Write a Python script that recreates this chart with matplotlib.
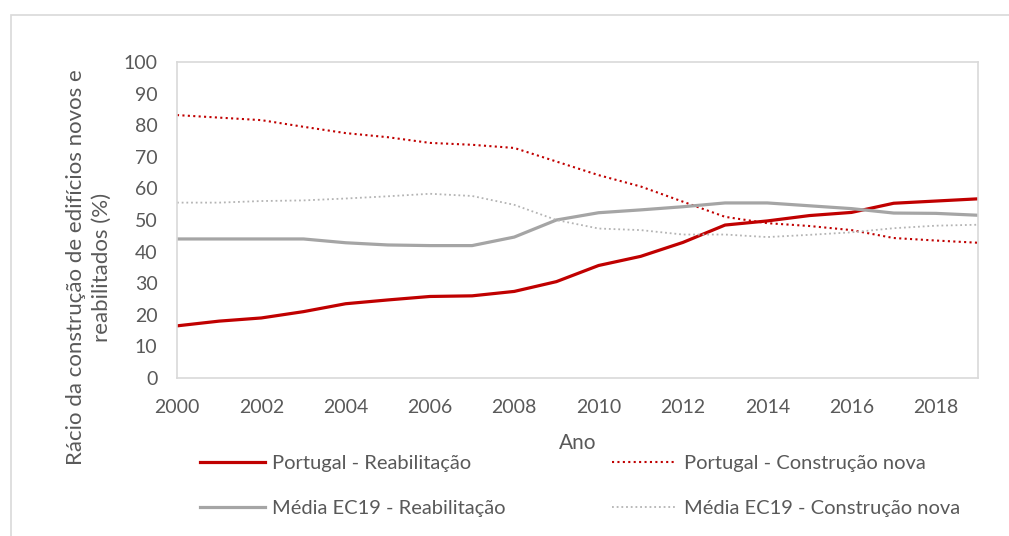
import matplotlib.pyplot as plt
from matplotlib.patches import Rectangle

anos = list(range(2000, 2020))
pt_reab = [16.5, 18, 19, 21, 23.5, 24.7, 25.8, 26, 27.4, 30.5,
           35.6, 38.5, 42.9, 48.4, 49.7, 51.4, 52.4, 55.3, 56, 56.7]
pt_nova = [83.2, 82.4, 81.6, 79.5, 77.5, 76.2, 74.4, 73.8, 72.8, 68.5,
           64.2, 60.6, 55.8, 51, 49, 48.1, 46.8, 44.3, 43.5, 42.8]
ec_reab = [44, 44, 44, 44, 42.8, 42.1, 41.9, 41.9, 44.6, 50,
           52.3, 53.2, 54.2, 55.4, 55.4, 54.5, 53.6, 52.2, 52.1, 51.5]
ec_nova = [55.5, 55.5, 56, 56.2, 56.8, 57.5, 58.3, 57.6, 54.8, 50,
           47.3, 46.8, 45.4, 45.4, 44.6, 45.3, 46.1, 47.4, 48.2, 48.5]
xticks = list(range(2000, 2019, 2))

plt.rcParams['font.family'] = ['Lato', 'DejaVu Sans']
cinza_txt = '#595959'
vermelho = '#C00000'
cinza = '#A5A5A5'

fig = plt.figure(figsize=(10.09, 5.36), dpi=100)
ax = fig.add_axes([177/1009, 1-378/536, (978-177)/1009, (378-62)/536])

l1, = ax.plot(anos, pt_reab, color=vermelho, lw=2.3, label='Portugal - Reabilitação')
l2, = ax.plot(anos, pt_nova, color=vermelho, lw=1.5, linestyle=(0, (1, 1.6)), label='Portugal - Construção nova')
l3, = ax.plot(anos, ec_reab, color=cinza, lw=2.3, label='Média EC19 - Reabilitação')
l4, = ax.plot(anos, ec_nova, color='#B4B4B4', lw=1.3, linestyle=(0, (1, 1.6)), label='Média EC19 - Construção nova')

ax.set_xlim(2000, 2019)
ax.set_ylim(0, 100)
ax.set_xticks(xticks)
ax.set_yticks(range(0, 101, 10))
ax.tick_params(length=0, labelsize=14, labelcolor=cinza_txt)
ax.tick_params(axis='x', pad=15)
ax.tick_params(axis='y', pad=14)
for s in ax.spines.values():
    s.set_color('#D9D9D9')
    s.set_linewidth(1.2)

fig.text(89/1009, 1-267/536, 'Rácio da construção de edifícios novos e\nreabilitados (%)',
         rotation=90, ha='center', va='center', multialignment='center',
         fontsize=16, color=cinza_txt, linespacing=1.4)
fig.text(578/1009, 1-443/536, 'Ano', ha='center', va='center', fontsize=15, color=cinza_txt)

leg = fig.legend([l1, l3, l2, l4], [l1.get_label(), l3.get_label(), l2.get_label(), l4.get_label()],
                 loc='center', bbox_to_anchor=(580/1009, 1-486/536), ncol=2, frameon=False,
                 fontsize=14.5, handlelength=3.2, handletextpad=0.35, columnspacing=5.3,
                 labelspacing=1.4)
for t in leg.get_texts():
    t.set_color(cinza_txt)

fig.patches.append(Rectangle((11/1009, -0.1), 1.2, 1-15/536+0.1, transform=fig.transFigure,
                             fill=False, edgecolor='#D9D9D9', lw=1.2))

fig.savefig('out.png', dpi=100)
